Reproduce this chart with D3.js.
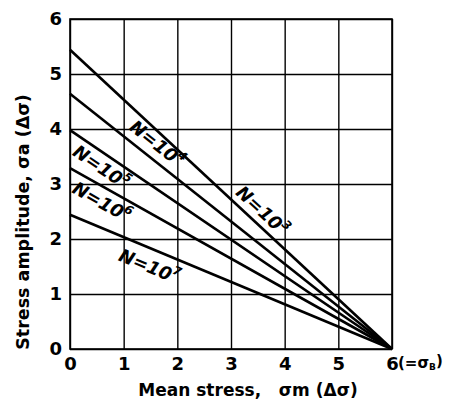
<!DOCTYPE html>
<html>
<head>
<meta charset="utf-8">
<script src="https://cdn.jsdelivr.net/npm/d3@7"></script>
<style>
  html, body { margin: 0; padding: 0; background: #fff; }
  svg { display: block; }
</style>
</head>
<body>
<svg id="chart" width="449" height="410"></svg>
<script>
// ---- data ----
const xTicks = [0, 1, 2, 3, 4, 5, 6];
const yTicks = [0, 1, 2, 3, 4, 5, 6];
const cycleExponents = [3, 4, 5, 6, 7];            // N = 10^k
const amplitudeAtZeroMean = [5.44, 4.64, 3.98, 3.29, 2.44]; // sigma_a at sigma_m = 0
const ultimateStrength = 6;                         // sigma_B (all lines reach 0 here)

// ---- layout (not data) ----
const W = 449, H = 410;
const x = d3.scaleLinear().domain([0, 6]).range([70, 392]);
const y = d3.scaleLinear().domain([0, 6]).range([349, 19]);
// label placement along each line: data x position, perpendicular pixel offset (negative = above)
const labelPlace = [
  { at: 3.42, off: -13 },
  { at: 1.45, off: -15 },
  { at: 0.72, off: 13 },
  { at: 0.72, off: 14 },
  { at: 1.6, off: 17 }
];

const svg = d3.select("#chart");
svg.append("rect").attr("width", W).attr("height", H).attr("fill", "#fff");

const font = "'DejaVu Sans', 'Liberation Sans', sans-serif";

// grid + y axis
const yAxis = d3.axisLeft(y).tickValues(yTicks).tickSize(-(x(6) - x(0))).tickPadding(8).tickFormat(d3.format("d"));
const gy = svg.append("g").attr("transform", `translate(${x(0)},0)`).call(yAxis);
gy.select(".domain").remove();
gy.selectAll("line").attr("stroke", "#000").attr("stroke-width", 1.4);
gy.selectAll("text").attr("font-family", font).attr("font-size", 18).attr("font-weight", "bold").attr("fill", "#000");

// grid + x axis
const xAxis = d3.axisBottom(x).tickValues(xTicks).tickSize(-(y(0) - y(6))).tickPadding(8).tickFormat(d3.format("d"));
const gx = svg.append("g").attr("transform", `translate(0,${y(0)})`).call(xAxis);
gx.select(".domain").remove();
gx.selectAll("line").attr("stroke", "#000").attr("stroke-width", 1.4);
gx.selectAll("text").attr("font-family", font).attr("font-size", 18).attr("font-weight", "bold").attr("fill", "#000");

// (=σB) annotation after last tick
const sigB = svg.append("text")
  .attr("x", x(6) + 6).attr("y", y(0) + 8).attr("dy", "0.71em")
  .attr("font-family", font).attr("font-size", 15).attr("font-weight", "bold").attr("fill", "#000");
sigB.append("tspan").text("(=σ");
sigB.append("tspan").attr("font-size", 9).attr("dy", "0.3em").text("B");
sigB.append("tspan").attr("dy", "-0.3em").text(")");

// frame
svg.append("rect")
  .attr("x", x(0)).attr("y", y(6))
  .attr("width", x(6) - x(0)).attr("height", y(0) - y(6))
  .attr("fill", "none").attr("stroke", "#000").attr("stroke-width", 1.6);

// lines
const series = cycleExponents.map((k, i) => ({
  k, pts: [[0, amplitudeAtZeroMean[i]], [ultimateStrength, 0]]
}));
const line = d3.line().x(d => x(d[0])).y(d => y(d[1]));
svg.append("g").selectAll("path").data(series).join("path")
  .attr("d", d => line(d.pts))
  .attr("fill", "none").attr("stroke", "#000").attr("stroke-width", 2.6);

// labels
series.forEach((s, i) => {
  const p = labelPlace[i];
  const a = s.pts[0][1];
  const yv = a * (1 - p.at / ultimateStrength);
  const px = x(p.at), py = y(yv);
  const dxp = x(6) - x(0), dyp = y(0) - y(a);
  const ang = Math.atan2(dyp, dxp);
  // normal pointing down-left on screen: (-sin, cos)
  const cx = px - p.off * Math.sin(ang);
  const cy = py + p.off * Math.cos(ang);
  const g = svg.append("g").attr("transform", `translate(${cx},${cy}) rotate(${ang * 180 / Math.PI})`);
  const t = g.append("text")
    .attr("text-anchor", "middle").attr("dy", "0.35em")
    .attr("font-family", font).attr("font-size", 18).attr("font-style", "italic")
    .attr("font-weight", "bold").attr("fill", "#000");
  t.append("tspan").text("N=10");
  t.append("tspan").attr("font-size", 12).attr("dy", "-0.7em").text(String(s.k));
});

// axis titles
svg.append("text")
  .attr("x", 248).attr("y", 396).attr("text-anchor", "middle")
  .attr("font-family", font).attr("font-size", 17).attr("font-weight", "bold").attr("fill", "#000")
  .attr("xml:space", "preserve")
  .text("Mean stress,   σm (Δσ)");

svg.append("text")
  .attr("transform", "translate(29,222) rotate(-90)").attr("text-anchor", "middle")
  .attr("font-family", font).attr("font-size", 17.5).attr("font-weight", "bold").attr("fill", "#000")
  .text("Stress amplitude, σa (Δσ)");
</script>
</body>
</html>
